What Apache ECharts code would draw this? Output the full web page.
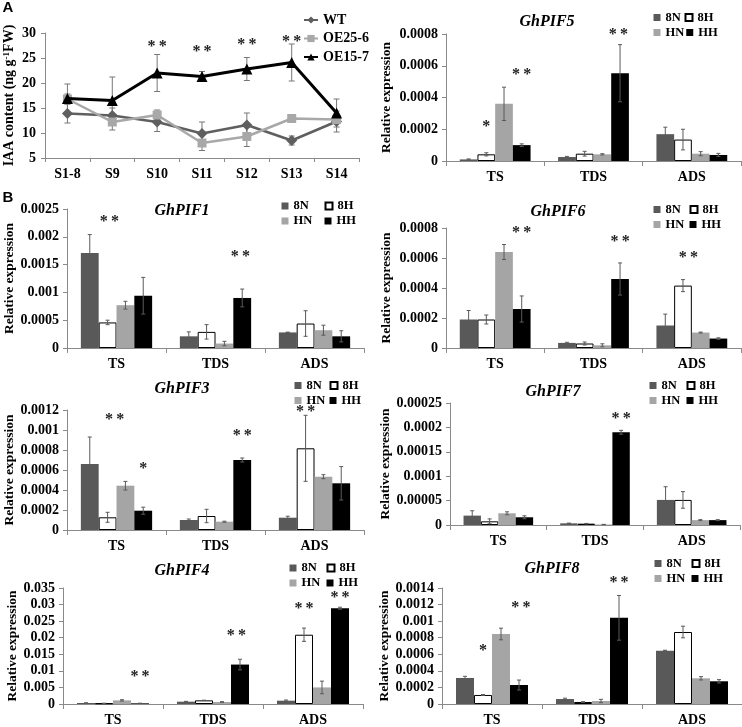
<!DOCTYPE html>
<html><head><meta charset="utf-8">
<script src="https://cdn.jsdelivr.net/npm/echarts/dist/echarts.min.js"></script>
<style>html,body{margin:0;padding:0;background:#fff}#c{width:742px;height:727px}</style>
</head><body><div id="c"></div><script>
// ---------------- DATA ----------------
const stages = ['S1-8', 'S9', 'S10', 'S11', 'S12', 'S13', 'S14'];
const wtMean    = [13.9, 13.5, 12.2, 9.9, 11.6, 8.5, 12.3];
const wtErr     = [1.9, 1.5, 1.9, 2.3, 2.4, 0.9, 2.1];
const oe256Mean = [16.8, 12.2, 13.6, 8.0, 9.3, 12.9, 12.7];
const oe256Err  = [1.0, 1.6, 1.0, 1.5, 2.0, 0.5, 0.8];
const oe157Mean = [16.9, 16.5, 22.0, 21.3, 22.8, 24.1, 14.0];
const oe157Err  = [2.9, 4.7, 3.7, 1.0, 2.3, 3.7, 2.8];
const iaaSig    = [[2, 27.6, 2], [3, 26.6, 2], [4, 28.0, 2], [5, 28.7, 2]]; // [stage, y, stars]

const tissues = ['TS', 'TDS', 'ADS'];
const groups = ['8N', '8H', 'HN', 'HH'];

// rows: 8N, 8H, HN, HH ; columns: TS, TDS, ADS
const pif5Mean = [[0.000010, 0.000025, 0.000169], [0.000042, 0.000046, 0.000135], [0.000360, 0.000042, 0.000046], [0.000100, 0.000553, 0.000038]];
const pif5Err  = [[0.000003, 0.000004, 0.000044], [0.000010, 0.000015, 0.000065], [0.000105, 0.000004, 0.000013], [0.000008, 0.000180, 0.000010]];
const pif5Sig  = [[0, 1, 0.000226, 1], [0, 3, 0.000553, 2], [1, 2.9, 0.000806, 2]]; // [tissue, barPos, y, stars]

const pif1Mean = [[0.00171, 0.00021, 0.00028], [0.00046, 0.00029, 0.00044], [0.00077, 0.00008, 0.00032], [0.00094, 0.00090, 0.00021]];
const pif1Err  = [[0.00033, 0.00008, 0.000005], [0.00004, 0.00013, 0.00023], [0.00007, 0.00004, 0.00009], [0.00033, 0.00016, 0.00010]];
const pif1Sig  = [[0, 1.1, 0.0023, 2], [1, 2.9, 0.00168, 2]];

const pif6Mean = [[0.00019, 0.000034, 0.00015], [0.00019, 0.00003, 0.000416], [0.00064, 0.000018, 0.000103], [0.00026, 0.00046, 0.000063]];
const pif6Err  = [[0.00006, 0.000004, 0.000076], [0.00003, 0.00001, 0.00004], [0.00005, 0.00001, 0.000003], [0.000087, 0.000107, 0.000005]];
const pif6Sig  = [[0, 3, 0.00078, 2], [1, 3, 0.00072, 2], [2, 1.3, 0.000615, 2]];

const pif3Mean = [[0.00066, 0.00010, 0.000123], [0.000127, 0.00014, 0.000817], [0.000443, 0.000083, 0.000533], [0.000193, 0.00070, 0.000467]];
const pif3Err  = [[0.00027, 0.00001, 0.000015], [0.00005, 0.000067, 0.00033], [0.000043, 0.000005, 0.00002], [0.000035, 0.00002, 0.000167]];
const pif3Sig  = [[0, 1.4, 0.00112, 2], [0, 3, 0.00063, 1], [1, 3, 0.00096, 2], [2, 1, 0.0012, 2]];

const pif7Mean = [[0.0000192, 0.0000034, 0.0000514], [0.0000075, 0.0000027, 0.0000514], [0.000024, 0.000001, 0.00001], [0.0000158, 0.00019, 0.00001]];
const pif7Err  = [[0.00001, 0.0000005, 0.000027], [0.000005, 0.0000005, 0.000017], [0.000003, 0.0000003, 0.000001], [0.000003, 0.000004, 0.000001]];
const pif7Sig  = [[1, 3, 0.000222, 2]];

const pif4Mean = [[0.0003, 0.0007, 0.0010], [0.0002, 0.0011, 0.0209], [0.0011, 0.0006, 0.0050], [0.0002, 0.0119, 0.0289]];
const pif4Err  = [[0.00005, 0.0001, 0.0002], [0.00003, 0.00005, 0.0020], [0.0002, 0.0001, 0.0019], [0.00003, 0.0016, 0.0003]];
const pif4Sig  = [[0, 3, 0.0089, 2], [1, 2.8, 0.0213, 2], [2, 1, 0.0294, 2], [2, 3, 0.0325, 2]];

const pif8Mean = [[0.000314, 0.00006, 0.000644], [0.000109, 0.000024, 0.000869], [0.000845, 0.000036, 0.00031], [0.000229, 0.00104, 0.000274]];
const pif8Err  = [[0.00002, 0.00001, 0.000005], [0.000005, 0.000005, 0.00007], [0.00007, 0.00002, 0.00002], [0.00006, 0.00027, 0.00002]];
const pif8Sig  = [[0, 1, 0.000668, 1], [0, 3.1, 0.00118, 2], [1, 3, 0.00149, 2]];

// ---------------- LAYOUT / STYLE ----------------
const SERIF = '"Liberation Serif", "Times New Roman", serif';
const AXIS_GRAY = '#8a8a8a';
const ERR_COLOR = '#5a5a5a';
const BAR_W = 0.18;
const groupStyles = [
  { color: '#595959' },
  { color: '#ffffff', borderColor: '#000', borderWidth: 1 },
  { color: '#a5a5a5' },
  { color: '#000000' }
];
function stars(n) { return Array(n).fill('*').join('\u2009'); }

const barPanels = [
  { title: 'GhPIF5', mean: pif5Mean, err: pif5Err, sig: pif5Sig, max: 0.0008, step: 0.0002, box: [446, 34, 295, 127], nameGap: 52, titleAt: [547, 22], leg: [657, 688, 18, 34] },
  { title: 'GhPIF1', mean: pif1Mean, err: pif1Err, sig: pif1Sig, max: 0.0025, step: 0.0005, box: [67, 209, 297, 139], nameGap: 42, titleAt: [182, 211], leg: [285, 328, 205, 218] },
  { title: 'GhPIF6', mean: pif6Mean, err: pif6Err, sig: pif6Sig, max: 0.0008, step: 0.0002, box: [446, 228, 295, 120], nameGap: 52, titleAt: [558, 212], leg: [657, 693, 210, 226] },
  { title: 'GhPIF3', mean: pif3Mean, err: pif3Err, sig: pif3Sig, max: 0.0012, step: 0.0002, box: [67, 410, 297, 120], nameGap: 44, titleAt: [182, 389], leg: [298, 333, 384, 396] },
  { title: 'GhPIF7', mean: pif7Mean, err: pif7Err, sig: pif7Sig, max: 0.00025, step: 0.00005, box: [450, 403, 290, 122], nameGap: 56, titleAt: [553, 392], leg: [653, 690, 386, 402] },
  { title: 'GhPIF4', mean: pif4Mean, err: pif4Err, sig: pif4Sig, max: 0.035, step: 0.005, box: [63, 588, 300, 118], nameGap: 40, titleAt: [182, 571], leg: [293, 330, 568, 583] },
  { title: 'GhPIF8', mean: pif8Mean, err: pif8Err, sig: pif8Sig, max: 0.0014, step: 0.0002, box: [442, 588, 300, 116], nameGap: 48, titleAt: [552, 569], leg: [658, 695, 563, 577] }
];

const labelStyle = { fontFamily: SERIF, fontWeight: 'bold', fontSize: 14, color: '#000' };

const grids = [{ left: 45, top: 33, width: 314, height: 125 }];
const xAxes = [{
  gridIndex: 0, type: 'category', data: stages, boundaryGap: true,
  axisLine: { lineStyle: { color: AXIS_GRAY } },
  axisTick: { show: true, length: 4, lineStyle: { color: AXIS_GRAY } },
  axisLabel: Object.assign({ margin: 9 }, labelStyle)
}];
const yAxes = [{
  gridIndex: 0, type: 'value', min: 5, max: 30, interval: 5,
  axisLine: { show: true, lineStyle: { color: AXIS_GRAY } },
  axisTick: { show: true, length: 4, lineStyle: { color: AXIS_GRAY } },
  splitLine: { show: false },
  axisLabel: Object.assign({ margin: 9 }, labelStyle),
  name: 'IAA content (ng g{sup|-1}FW)', nameLocation: 'middle', nameGap: 29,
  nameTextStyle: {
    fontFamily: SERIF, fontWeight: 'bold', fontSize: 14, color: '#000',
    rich: { sup: { fontFamily: SERIF, fontWeight: 'bold', fontSize: 9, verticalAlign: 'top', color: '#000' } }
  }
}];

function lineErr(mean, err) { return mean.map((v, i) => [i, v, err[i]]); }
const lineErrData = [].concat(lineErr(wtMean, wtErr), lineErr(oe256Mean, oe256Err), lineErr(oe157Mean, oe157Err));

const series = [
  {
    type: 'custom', xAxisIndex: 0, yAxisIndex: 0, silent: true, z: 1,
    encode: { x: 0, y: 1 }, data: lineErrData,
    renderItem: function (params, api) {
      const c = api.value(0), v = api.value(1), e = api.value(2);
      const x = api.coord([c, v])[0];
      const yT = api.coord([c, v + e])[1], yB = api.coord([c, v - e])[1];
      const st = { stroke: '#777', lineWidth: 1 };
      return { type: 'group', children: [
        { type: 'line', shape: { x1: x, y1: yT, x2: x, y2: yB }, style: st },
        { type: 'line', shape: { x1: x - 3, y1: yT, x2: x + 3, y2: yT }, style: st },
        { type: 'line', shape: { x1: x - 3, y1: yB, x2: x + 3, y2: yB }, style: st }
      ] };
    }
  },
  { type: 'line', name: 'WT', xAxisIndex: 0, yAxisIndex: 0, data: wtMean, symbol: 'diamond', symbolSize: 11, z: 3,
    lineStyle: { color: '#5f5f5f', width: 2.5 }, itemStyle: { color: '#5f5f5f' } },
  { type: 'line', name: 'OE25-6', xAxisIndex: 0, yAxisIndex: 0, data: oe256Mean, symbol: 'rect', symbolSize: 9, z: 3,
    lineStyle: { color: '#a8a8a8', width: 2.5 }, itemStyle: { color: '#a8a8a8' } },
  { type: 'line', name: 'OE15-7', xAxisIndex: 0, yAxisIndex: 0, data: oe157Mean, symbol: 'triangle', symbolSize: 11, z: 4,
    lineStyle: { color: '#000', width: 3 }, itemStyle: { color: '#000' } },
  {
    type: 'custom', xAxisIndex: 0, yAxisIndex: 0, silent: true, z: 6,
    encode: { x: 0, y: 1 }, data: iaaSig,
    renderItem: function (params, api) {
      const p = api.coord([api.value(0), api.value(1)]);
      return { type: 'text', x: p[0], y: p[1] + 2, style: { text: stars(api.value(2)), font: 'bold 16px ' + SERIF, fill: '#222', align: 'center', verticalAlign: 'middle' } };
    }
  }
];

const legends = [{
  left: 303, top: 13, orient: 'vertical', itemWidth: 14, itemHeight: 9, itemGap: 4.5, padding: 0,
  data: ['WT', 'OE25-6', 'OE15-7'],
  textStyle: { fontFamily: SERIF, fontWeight: 'bold', fontSize: 14, color: '#000', lineHeight: 14 }
}];

const graphics = [
  { type: 'text', x: 8, y: 8, style: { text: 'A', font: 'bold 15px "Liberation Sans", Arial, sans-serif', fill: '#000', align: 'center', verticalAlign: 'middle' } },
  { type: 'text', x: 8, y: 198, style: { text: 'B', font: 'bold 15px "Liberation Sans", Arial, sans-serif', fill: '#000', align: 'center', verticalAlign: 'middle' } }
];

barPanels.forEach(function (p, idx) {
  const gi = idx + 1;
  grids.push({ left: p.box[0], top: p.box[1], width: p.box[2], height: p.box[3] });
  xAxes.push({
    gridIndex: gi, type: 'category', data: tissues,
    axisLine: { lineStyle: { color: AXIS_GRAY } },
    axisTick: { show: true, length: 5, lineStyle: { color: AXIS_GRAY } },
    axisLabel: Object.assign({ margin: 9 }, labelStyle)
  });
  yAxes.push({
    gridIndex: gi, type: 'value', min: 0, max: p.max, interval: p.step,
    axisLine: { show: true, lineStyle: { color: AXIS_GRAY } },
    axisTick: { show: true, length: 4, lineStyle: { color: AXIS_GRAY } },
    splitLine: { show: false },
    axisLabel: Object.assign({ margin: 8 }, labelStyle),
    name: 'Relative expression', nameLocation: 'middle', nameGap: p.nameGap,
    nameTextStyle: { fontFamily: SERIF, fontWeight: 'bold', fontSize: 13.5, color: '#000' }
  });
  groups.forEach(function (g, k) {
    series.push({
      type: 'bar', name: g, xAxisIndex: gi, yAxisIndex: gi, data: p.mean[k],
      barWidth: (BAR_W * 100) + '%', barGap: '0%', itemStyle: groupStyles[k], z: 2
    });
  });
  const errData = [];
  p.mean.forEach(function (row, k) { row.forEach(function (v, c) { errData.push([c, k, v, p.err[k][c]]); }); });
  series.push({
    type: 'custom', xAxisIndex: gi, yAxisIndex: gi, silent: true, z: 5,
    encode: { x: 0, y: 2 }, data: errData,
    renderItem: function (params, api) {
      const c = api.value(0), k = api.value(1), v = api.value(2), e = api.value(3);
      const bw = api.size([1, 0])[0] * BAR_W;
      const x = api.coord([c, 0])[0] + (k - 1.5) * bw;
      const yT = api.coord([c, v + e])[1], yB = api.coord([c, Math.max(0, v - e)])[1];
      const st = { stroke: ERR_COLOR, lineWidth: 1 };
      return { type: 'group', children: [
        { type: 'line', shape: { x1: x, y1: yT, x2: x, y2: yB }, style: st },
        { type: 'line', shape: { x1: x - 2, y1: yT, x2: x + 2, y2: yT }, style: st },
        { type: 'line', shape: { x1: x - 2, y1: yB, x2: x + 2, y2: yB }, style: st }
      ] };
    }
  });
  series.push({
    type: 'custom', xAxisIndex: gi, yAxisIndex: gi, silent: true, z: 6,
    encode: { x: 0, y: 2 }, data: p.sig,
    renderItem: function (params, api) {
      const c = api.value(0), k = api.value(1);
      const bw = api.size([1, 0])[0] * BAR_W;
      const pt = api.coord([c, api.value(2)]);
      return { type: 'text', x: pt[0] + (k - 1.5) * bw, y: pt[1] + 2,
        style: { text: stars(api.value(3)), font: 'bold 16px ' + SERIF, fill: '#222', align: 'center', verticalAlign: 'middle' } };
    }
  });
  // legend: 2x2
  const D = p.leg[1] - p.leg[0], R = p.leg[3] - p.leg[2], gap = 2;
  const W = D - 12 - gap, L = R - gap;
  legends.push({
    left: p.leg[0] - 3.5, top: p.leg[2] - L / 2, width: 2 * (12 + W) + gap + 14,
    orient: 'horizontal', padding: 0, itemGap: gap, itemWidth: 7, itemHeight: 7, icon: 'rect',
    data: groups, formatter: '{a|{name}}',
    textStyle: { rich: { a: { width: W, lineHeight: L, fontFamily: SERIF, fontWeight: 'bold', fontSize: 12.5, color: '#000' } } }
  });
  graphics.push({ type: 'text', x: p.titleAt[0], y: p.titleAt[1],
    style: { text: p.title, font: 'italic bold 16px ' + SERIF, fill: '#000', align: 'center', verticalAlign: 'middle' } });
});

const chart = echarts.init(document.getElementById('c'));
chart.setOption({
  animation: false,
  backgroundColor: '#fff',
  grid: grids, xAxis: xAxes, yAxis: yAxes, series: series, legend: legends, graphic: graphics
});
</script></body></html>
